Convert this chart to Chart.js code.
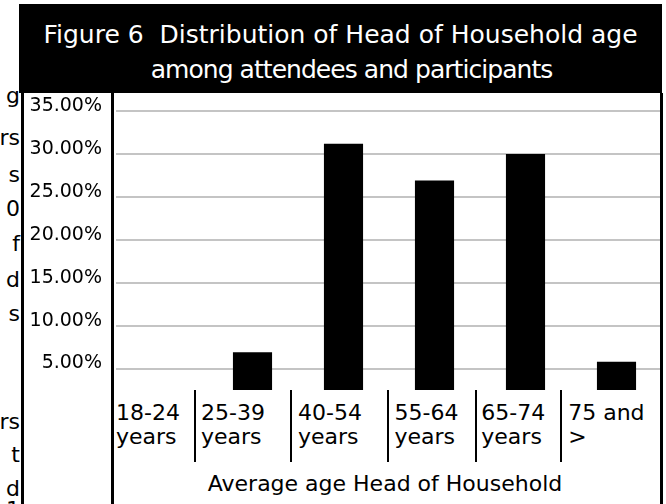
<!DOCTYPE html>
<html>
<head>
<meta charset="utf-8">
<script src="https://cdn.jsdelivr.net/npm/chart.js@4.4.0/dist/chart.umd.min.js"></script>
<style>
html,body{margin:0;padding:0;background:#fff;}
body{width:666px;height:504px;overflow:hidden;position:relative;font-family:"DejaVu Sans",sans-serif;color:#000;}
.abs{position:absolute;}
#header{left:19px;top:4px;width:643px;height:89px;background:#000;}
.tline{position:absolute;left:19px;width:643px;color:#fff;font-size:25px;line-height:35px;text-align:center;white-space:pre;}
.vline{position:absolute;background:#000;}
.xl{position:absolute;font-size:22px;line-height:24px;white-space:pre;color:#000;}
.frag{position:absolute;left:-40px;width:60px;text-align:right;font-size:22px;line-height:24px;color:#000;white-space:pre;}
#wrap{position:absolute;left:24px;top:93px;width:638px;height:297px;}
#axisTitle{position:absolute;left:112px;width:546px;top:472px;text-align:center;font-size:22px;line-height:24px;color:#000;white-space:pre;}
</style>
</head>
<body>
<div id="header" class="abs"></div>
<div class="tline" id="t1" style="top:17px;"></div>
<div class="tline" id="t2" style="top:52px;letter-spacing:-0.95px;padding-left:22px;box-sizing:border-box;"></div>
<div id="wrap"><canvas id="c" width="638" height="297"></canvas></div>
<div id="axisTitle"></div>
<div id="layer"></div>
<script>
// ---- data ----
const titleLines = ["Figure 6  Distribution of Head of Household age", "among attendees and participants"];
const categories = [["18-24", "years"], ["25-39", "years"], ["40-54", "years"], ["55-64", "years"], ["65-74", "years"], ["75 and", ">"]];
const shareValues = [0, 6.9, 31.2, 26.9, 30.0, 5.8];
const yTickValues = [5, 10, 15, 20, 25, 30, 35];
const xAxisTitle = "Average age Head of Household";
const marginFragments = ["g", "rs", "s", "0", "f", "d", "s", "rs", "t", "d", "1"];

// ---- layout (positions only) ----
const fragBaselines = [104, 146, 183, 217, 252, 288, 322, 430, 463, 497, 518];
const sepLefts = [193.5, 290, 387, 474.5, 560];
const labelLefts = [116, 201, 298, 394.5, 481.3, 568.2];

document.getElementById('t1').textContent = titleLines[0];
document.getElementById('t2').textContent = titleLines[1];
document.getElementById('axisTitle').textContent = xAxisTitle;

const layer = document.getElementById('layer');
function addDiv(cls, css, text) {
  const d = document.createElement('div');
  d.className = cls;
  Object.assign(d.style, css);
  if (text !== undefined) d.textContent = text;
  layer.appendChild(d);
  return d;
}
// borders
addDiv('vline', {left: '21px', top: '93px', width: '3px', height: '411px'});
addDiv('vline', {left: '111px', top: '93px', width: '3px', height: '411px'});
addDiv('vline', {left: '660px', top: '93px', width: '3px', height: '411px'});
sepLefts.forEach(x => addDiv('vline', {left: x + 'px', top: '390px', width: '2.3px', height: '72px'}));
// category labels
categories.forEach((lines, i) => {
  addDiv('xl', {left: labelLefts[i] + 'px', top: '401px'}, lines[0]);
  addDiv('xl', {left: labelLefts[i] + 'px', top: '425px'}, lines[1]);
});
// margin text fragments
marginFragments.forEach((t, i) => addDiv('frag', {top: (fragBaselines[i] - 19.6) + 'px'}, t));

new Chart(document.getElementById('c'), {
  type: 'bar',
  data: {
    labels: categories.map(l => l.join(' ')),
    datasets: [{
      data: shareValues,
      backgroundColor: '#000',
      borderWidth: 0,
      barPercentage: 0.43,
      categoryPercentage: 1
    }]
  },
  options: {
    responsive: false,
    animation: false,
    devicePixelRatio: 1,
    layout: {padding: 0},
    plugins: {legend: {display: false}, tooltip: {enabled: false}, title: {display: false}},
    scales: {
      x: {display: false},
      y: {
        min: 2.5,
        max: 37.1,
        afterBuildTicks(ax) { ax.ticks = yTickValues.map(v => ({value: v})); },
        afterFit(ax) { ax.width = 92; ax.paddingTop = 0; ax.paddingBottom = 0; },
        grid: {color: '#c4c4c4', lineWidth: 2, drawTicks: false},
        border: {display: false},
        ticks: {
          padding: 14,
          labelOffset: -5,
          color: '#000',
          font: {family: 'DejaVu Sans', size: 19},
          callback: v => Number(v).toFixed(2) + '%'
        }
      }
    }
  }
});
</script>
</body>
</html>
